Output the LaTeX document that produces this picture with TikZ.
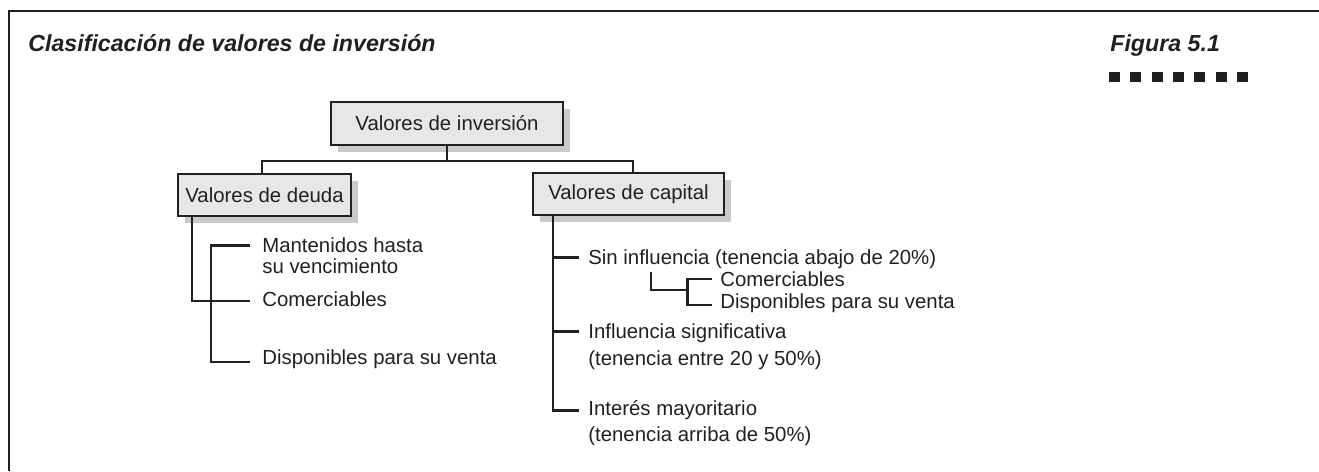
\documentclass[tikz,border=0pt]{standalone}
\usepackage{fontspec}
\setmainfont{Liberation Sans}
\usetikzlibrary{shadows}
\definecolor{boxgray}{HTML}{E6E7E8}
\definecolor{shadegray}{HTML}{C9CACC}
\definecolor{ink}{HTML}{231F20}

\begin{document}
\begin{tikzpicture}[
  x=0.02cm, y=-0.02cm,
  box/.style={rectangle, draw=ink, line width=1.4pt, fill=boxgray, text=ink, font=\fontsize{11.6}{13}\selectfont, minimum height=0.85cm, inner sep=0pt, drop shadow={shadow xshift=0.14cm, shadow yshift=-0.14cm, fill=shadegray, opacity=1}},
  item/.style={anchor=base west, inner sep=0pt, align=left, text=ink, font=\fontsize{11.6}{11.6}\selectfont},
  head/.style={anchor=base west, inner sep=0pt, text=ink, font=\fontsize{13.2}{14}\selectfont\bfseries\itshape},
  ln/.style={draw=ink, line width=1.4pt}
]
  \useasboundingbox (0,0) rectangle (1319,471);

  % Frame and heading
  \draw[ink, line width=0.8pt] (9,471) -- (9,11) -- (1319,11);
  \node[head] (title) at (28,51) {Clasificación de valores de inversión};
  \node[head] (fig) at (1110,51) {Figura 5.1};
  \foreach \i in {0,...,6}
    \fill[ink] (1109+\i*21.3,71.5) rectangle ++(11,10.5);

  % Boxes
  \node[box, minimum width=4.64cm] (inv) at (447,123.5) {Valores de inversión};
  \node[box, minimum width=3.46cm] (deuda) at (264.5,195) {Valores de deuda};
  \node[box, minimum width=3.82cm] (capital) at (628.5,194) {Valores de capital};

  % Items (two-line items sit on the baseline of their last line)
  \node[item] (mant) at (262,273) {Mantenidos hasta\\su vencimiento};
  \node[item] (com) at (262,306.7) {Comerciables};
  \node[item] (disp) at (262,364) {Disponibles para su venta};
  \node[item] (sin) at (588,264) {Sin influencia (tenencia abajo de 20\%)};
  \node[item] (subcom) at (720,286) {Comerciables};
  \node[item] (subdisp) at (720,308) {Disponibles para su venta};
  \node[item] (infl) at (588,365) {Influencia significativa\\[3.5pt](tenencia entre 20 y 50\%)};
  \node[item] (inter) at (588,441.7) {Interés mayoritario\\[3.5pt](tenencia arriba de 50\%)};

  % Connectors
  \draw[ln] (inv.south) -- ++(0,15) -| ([xshift=-0.05cm]deuda.north);
  \draw[ln] (inv.south) -- ++(0,15) -| ([xshift=0.09cm]capital.north);

  \draw[ln] ([xshift=0.3cm]deuda.south west) |- ([xshift=-0.24cm,yshift=0.11cm]com.base west);
  \draw[ln] ([xshift=-0.24cm,yshift=0.546cm]mant.base west) -- ++(-39,0) |- ([xshift=-0.24cm,yshift=0.04cm]disp.base west);

  \draw[ln] ([xshift=0.42cm]capital.south west) |- ([xshift=-0.18cm,yshift=0.62cm]inter.base west);
  \draw[ln] ([xshift=-0.18cm,yshift=0.13cm]sin.base west) -- ++(-25,0);
  \draw[ln] ([xshift=-0.18cm,yshift=0.666cm]infl.base west) -- ++(-25,0);
  \draw[ln] ([xshift=-0.17cm,yshift=0.14cm]subcom.base west) -- ++(-24,0) |- ([xshift=-0.17cm,yshift=0.06cm]subdisp.base west);
  \draw[ln] ([xshift=1.26cm,yshift=-0.15cm]sin.base west) |- ([xshift=-0.65cm,yshift=-0.08cm]subcom.base west);
\end{tikzpicture}
\end{document}
